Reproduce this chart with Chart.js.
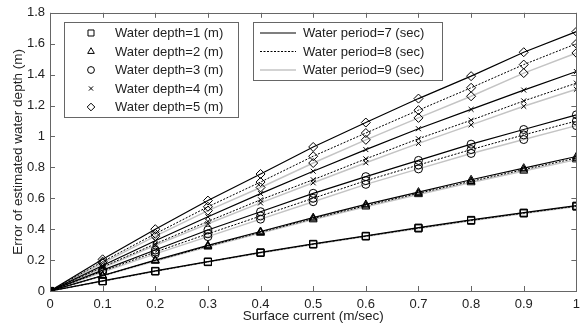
<!DOCTYPE html>
<html>
<head>
<meta charset="utf-8">
<script src="https://cdn.jsdelivr.net/npm/chart.js@4/dist/chart.umd.min.js"></script>
<style>
  html, body { margin: 0; padding: 0; background: #fff; overflow: hidden; }
  #wrap { width: 586px; height: 328px; position: relative; }
</style>
</head>
<body>
<div id="wrap"><canvas id="chart"></canvas></div>
<script>
// surface current (m/sec)
const currents = [0, 0.1, 0.2, 0.3, 0.4, 0.5, 0.6, 0.7, 0.8, 0.9, 1.0];

// error of estimated water depth (m), per depth and wave period
const depth1_T7 = [0, 0.065, 0.130, 0.190, 0.250, 0.305, 0.357, 0.410, 0.460, 0.507, 0.552];
const depth1_T8 = [0, 0.064, 0.128, 0.189, 0.248, 0.303, 0.355, 0.407, 0.457, 0.504, 0.549];
const depth1_T9 = [0, 0.063, 0.127, 0.187, 0.246, 0.301, 0.353, 0.405, 0.455, 0.502, 0.546];

const depth2_T7 = [0, 0.100, 0.200, 0.295, 0.385, 0.475, 0.560, 0.640, 0.720, 0.795, 0.870];
const depth2_T8 = [0, 0.099, 0.197, 0.290, 0.380, 0.468, 0.552, 0.632, 0.710, 0.785, 0.860];
const depth2_T9 = [0, 0.097, 0.194, 0.286, 0.375, 0.462, 0.545, 0.625, 0.702, 0.777, 0.850];

const depth3_T7 = [0, 0.135, 0.265, 0.395, 0.513, 0.632, 0.740, 0.845, 0.950, 1.045, 1.140];
const depth3_T8 = [0, 0.128, 0.252, 0.370, 0.485, 0.600, 0.714, 0.815, 0.915, 1.010, 1.100];
const depth3_T9 = [0, 0.122, 0.240, 0.352, 0.465, 0.578, 0.690, 0.790, 0.890, 0.980, 1.070];

const depth4_T7 = [0, 0.165, 0.325, 0.480, 0.630, 0.775, 0.915, 1.050, 1.175, 1.300, 1.420];
const depth4_T8 = [0, 0.155, 0.305, 0.450, 0.590, 0.720, 0.855, 0.985, 1.105, 1.230, 1.345];
const depth4_T9 = [0, 0.150, 0.295, 0.435, 0.570, 0.700, 0.830, 0.955, 1.075, 1.195, 1.305];

const depth5_T7 = [0, 0.205, 0.400, 0.585, 0.757, 0.932, 1.090, 1.245, 1.390, 1.545, 1.678];
const depth5_T8 = [0, 0.190, 0.370, 0.545, 0.705, 0.872, 1.022, 1.170, 1.315, 1.465, 1.600];
const depth5_T9 = [0, 0.180, 0.355, 0.520, 0.670, 0.828, 0.978, 1.120, 1.260, 1.410, 1.540];

const depthLabels = ["Water depth=1 (m)", "Water depth=2 (m)", "Water depth=3 (m)", "Water depth=4 (m)", "Water depth=5 (m)"];
const periodLabels = ["Water period=7 (sec)", "Water period=8 (sec)", "Water period=9 (sec)"];
const xTickValues = [0, 0.1, 0.2, 0.3, 0.4, 0.5, 0.6, 0.7, 0.8, 0.9, 1];
const yTickValues = [0, 0.2, 0.4, 0.6, 0.8, 1, 1.2, 1.4, 1.6, 1.8];

const FONT_FAMILY = "Liberation Sans, Arial, sans-serif";
const TEXT_COLOR = "#222";
const AXIS_COLOR = "#666";

// marker per depth, line style per period
const markerStyles = ["rect", "triangle", "circle", "crossRot", "rectRot"];
const markerSizes = [5, 4.5, 4, 3.5, 4.5];
const lineColors = ["#000", "#000", "#c4c4c4"];
const lineWidths = [1.2, 1, 1.5];
const lineDashes = [[], [2, 1.5], []];

const seriesByDepth = [
  [depth1_T7, depth1_T8, depth1_T9],
  [depth2_T7, depth2_T8, depth2_T9],
  [depth3_T7, depth3_T8, depth3_T9],
  [depth4_T7, depth4_T8, depth4_T9],
  [depth5_T7, depth5_T8, depth5_T9]
];

// Chart.js draws index 0 last: dotted on top, then solid, gray underneath
const drawOrder = [1, 0, 2];
const chartDatasets = [];
for (const p of drawOrder) {
  for (let d = 0; d < seriesByDepth.length; d++) {
    const values = seriesByDepth[d][p];
    chartDatasets.push({
      label: depthLabels[d] + ", " + periodLabels[p],
      data: currents.map((x, i) => ({ x: x, y: values[i] })),
      borderColor: lineColors[p],
      borderWidth: lineWidths[p],
      borderDash: lineDashes[p].slice(),
      pointStyle: markerStyles[d],
      pointRadius: markerSizes[d],
      pointBorderColor: "#000",
      pointBackgroundColor: "rgba(0,0,0,0)",
      pointBorderWidth: 1
    });
  }
}

// legend markers, drawn by hand
function drawMarker(ctx, style, r, x, y) {
  ctx.beginPath();
  if (style === "rect") {
    const s = r * Math.SQRT1_2;
    ctx.rect(x - s, y - s, 2 * s, 2 * s);
  } else if (style === "triangle") {
    ctx.moveTo(x, y - r);
    ctx.lineTo(x + r * 0.866, y + r * 0.5);
    ctx.lineTo(x - r * 0.866, y + r * 0.5);
    ctx.closePath();
  } else if (style === "circle") {
    ctx.arc(x, y, r, 0, Math.PI * 2);
  } else if (style === "crossRot") {
    const s = r * Math.SQRT1_2;
    ctx.moveTo(x - s, y - s); ctx.lineTo(x + s, y + s);
    ctx.moveTo(x + s, y - s); ctx.lineTo(x - s, y + s);
  } else {
    ctx.moveTo(x, y - r); ctx.lineTo(x + r, y);
    ctx.lineTo(x, y + r); ctx.lineTo(x - r, y);
    ctx.closePath();
  }
  ctx.stroke();
}

// box round the axes, inward ticks, and the two legend boxes
const framePlugin = {
  id: "matlabFrame",
  afterDraw(chart) {
    const ctx = chart.ctx;
    const a = chart.chartArea;
    const sx = chart.scales.x;
    const sy = chart.scales.y;
    ctx.save();
    ctx.setLineDash([]);
    ctx.strokeStyle = AXIS_COLOR;
    ctx.lineWidth = 1;
    ctx.beginPath();
    for (const v of xTickValues) {
      const px = Math.round(sx.getPixelForValue(v)) + 0.5;
      ctx.moveTo(px, a.bottom); ctx.lineTo(px, a.bottom - 5);
      ctx.moveTo(px, a.top); ctx.lineTo(px, a.top + 5);
    }
    for (const v of yTickValues) {
      const py = Math.round(sy.getPixelForValue(v)) + 0.5;
      ctx.moveTo(a.left, py); ctx.lineTo(a.left + 5, py);
      ctx.moveTo(a.right, py); ctx.lineTo(a.right - 5, py);
    }
    ctx.stroke();
    ctx.strokeRect(Math.round(a.left) + 0.5, Math.round(a.top) + 0.5,
      Math.round(a.right - a.left), Math.round(a.bottom - a.top));

    ctx.font = "13px " + FONT_FAMILY;
    ctx.textBaseline = "middle";
    ctx.textAlign = "left";

    // depth legend
    ctx.fillStyle = "#fff";
    ctx.fillRect(64.5, 22.5, 174, 95);
    ctx.strokeStyle = AXIS_COLOR;
    ctx.strokeRect(64.5, 22.5, 174, 95);
    const rowsL = [33, 51.5, 70, 88.5, 107];
    depthLabels.forEach((t, i) => {
      ctx.strokeStyle = "#000";
      ctx.lineWidth = 1;
      drawMarker(ctx, markerStyles[i], markerSizes[i] * 0.85, 91, rowsL[i]);
      ctx.fillStyle = TEXT_COLOR;
      ctx.fillText(t, 115, rowsL[i] + 0.5);
    });

    // period legend
    ctx.fillStyle = "#fff";
    ctx.fillRect(253.5, 22.5, 189, 58);
    ctx.strokeStyle = AXIS_COLOR;
    ctx.lineWidth = 1;
    ctx.strokeRect(253.5, 22.5, 189, 58);
    const rowsR = [33, 51.5, 70];
    periodLabels.forEach((t, i) => {
      ctx.strokeStyle = lineColors[i];
      ctx.lineWidth = lineWidths[i];
      ctx.setLineDash(lineDashes[i]);
      ctx.beginPath();
      ctx.moveTo(260, rowsR[i]);
      ctx.lineTo(296, rowsR[i]);
      ctx.stroke();
      ctx.setLineDash([]);
      ctx.fillStyle = TEXT_COLOR;
      ctx.fillText(t, 303, rowsR[i] + 0.5);
    });
    ctx.restore();
  }
};

new Chart(document.getElementById("chart"), {
  type: "line",
  data: { datasets: chartDatasets },
  plugins: [framePlugin],
  options: {
    responsive: true,
    maintainAspectRatio: false,
    animation: false,
    events: [],
    layout: { padding: { top: 12, right: 1, left: 0, bottom: 0 } },
    plugins: {
      legend: { display: false },
      tooltip: { enabled: false }
    },
    scales: {
      x: {
        type: "linear",
        min: 0,
        max: 1,
        grid: { display: false, drawTicks: false },
        border: { display: false },
        ticks: {
          stepSize: 0.1,
          padding: 6,
          maxRotation: 0,
          color: TEXT_COLOR,
          font: { size: 13 },
          callback: v => String(+v.toFixed(1))
        },
        title: {
          display: true,
          text: "Surface current (m/sec)",
          color: TEXT_COLOR,
          font: { size: 13.5 },
          padding: { top: 0, bottom: 4 }
        },
        afterFit(scale) {
          scale.height = 37;
        }
      },
      y: {
        type: "linear",
        min: 0,
        max: 1.8,
        grid: { display: false, drawTicks: false },
        border: { display: false },
        ticks: {
          stepSize: 0.2,
          padding: 5,
          color: TEXT_COLOR,
          font: { size: 13 },
          callback: v => String(+v.toFixed(1))
        },
        title: {
          display: true,
          text: "Error of estimated water depth (m)",
          color: TEXT_COLOR,
          font: { size: 13.5 },
          padding: { top: 10, bottom: 0 }
        },
        afterFit(scale) {
          scale.width = 50;
        }
      }
    }
  }
});
</script>
</body>
</html>
